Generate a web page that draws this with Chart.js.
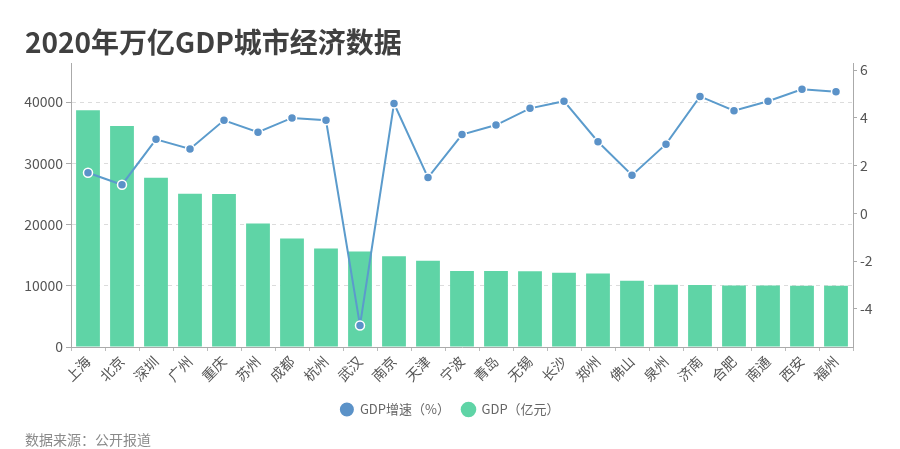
<!DOCTYPE html>
<html>
<head>
<meta charset="utf-8">
<script src="https://cdn.jsdelivr.net/npm/chart.js@4/dist/chart.umd.min.js"></script>
<style>
  body { margin: 0; background: #fff; }
  #wrap { position: relative; width: 900px; height: 449px; overflow: hidden; }
  #graph { position: absolute; left: 0; top: 0; }
  #titre { position: absolute; left: 25px; top: 21px; line-height: 32px; font: bold 28px "Noto Sans CJK SC", sans-serif; color: #404040; }
  #source { position: absolute; left: 25px; top: 429px; line-height: 16px; font: 14px "Noto Sans CJK SC", sans-serif; color: #8a8a8a; }
</style>
</head>
<body>
<div id="wrap">
  <canvas id="graph" width="900" height="449"></canvas>
  <div id="titre">2020年万亿GDP城市经济数据</div>
  <div id="source">数据来源：公开报道</div>
</div>
<script>
// villes (axe x)
var villes = ['上海','北京','深圳','广州','重庆','苏州','成都','杭州','武汉','南京','天津','宁波','青岛','无锡','长沙','郑州','佛山','泉州','济南','合肥','南通','西安','福州'];
// GDP en 亿元
var gdp = [38700,36103,27670,25019,25003,20171,17717,16106,15616,14818,14084,12409,12401,12370,12143,12003,10816,10159,10141,10046,10036,10020,10020];
// croissance en %
var croissance = [1.7,1.2,3.1,2.7,3.9,3.4,4.0,3.9,-4.7,4.6,1.5,3.3,3.7,4.4,4.7,3.0,1.6,2.9,4.9,4.3,4.7,5.2,5.1];
// graduations des deux axes
var gradGdp = [0,10000,20000,30000,40000];
var gradCroissance = [-4,-2,0,2,4,6];

var police = '"Noto Sans CJK SC", sans-serif';

function fixerTicks(valeurs) {
  return function(s) {
    s.ticks = valeurs.map(function(v){ return { value: v }; });
  };
}
function brut(v) { return String(v); }

new Chart(document.getElementById('graph'), {
  type: 'bar',
  data: {
    labels: villes,
    datasets: [
      {
        type: 'line',
        label: 'GDP增速（%）',
        data: croissance,
        yAxisID: 'y2',
        order: 0,
        borderColor: '#5b9bcc',
        backgroundColor: '#4fa3e0',
        borderWidth: 2,
        pointRadius: 4.5,
        pointBackgroundColor: '#5b92c8',
        pointBorderColor: '#ffffff',
        pointBorderWidth: 1.5,
        tension: 0
      },
      {
        label: 'GDP（亿元）',
        data: gdp,
        yAxisID: 'y',
        order: 1,
        backgroundColor: '#5fd4a6',
        barPercentage: 0.7,
        categoryPercentage: 1
      }
    ]
  },
  options: {
    responsive: false,
    devicePixelRatio: 1,
    animation: false,
    layout: { padding: { top: 63, left: 0, right: 0, bottom: 23 } },
    plugins: {
      tooltip: { enabled: false },
      legend: {
        position: 'bottom',
        labels: {
          usePointStyle: true,
          pointStyle: 'circle',
          boxHeight: 11,
          padding: 12,
          color: '#666',
          font: { family: police, size: 13 }
        }
      }
    },
    scales: {
      x: {
        afterFit: function(s) { s.height = 44; },
        grid: { display: true, drawOnChartArea: false, tickLength: 4, color: '#bbb' },
        border: { color: '#aaa' },
        ticks: {
          autoSkip: false, maxRotation: 45, minRotation: 45,
          color: '#555', font: { family: police, size: 14 }, padding: 2
        }
      },
      y: {
        position: 'left',
        min: 0, max: 46400,
        afterFit: function(s) { s.width = 71; },
        afterBuildTicks: fixerTicks(gradGdp),
        grid: { color: '#dcdcdc', tickColor: '#aaa', tickLength: 5, tickBorderDash: [] },
        border: { color: '#aaa', dash: [4, 4] },
        ticks: { color: '#555', font: { family: police, size: 14 }, padding: 3, callback: brut }
      },
      y2: {
        position: 'right',
        min: -5.6, max: 6.3,
        afterFit: function(s) { s.width = 47; },
        afterBuildTicks: fixerTicks(gradCroissance),
        grid: { drawOnChartArea: false, tickLength: 4, color: '#aaa' },
        border: { color: '#aaa' },
        ticks: { color: '#555', font: { family: police, size: 14 }, padding: 3, callback: brut }
      }
    }
  }
});
</script>
</body>
</html>
